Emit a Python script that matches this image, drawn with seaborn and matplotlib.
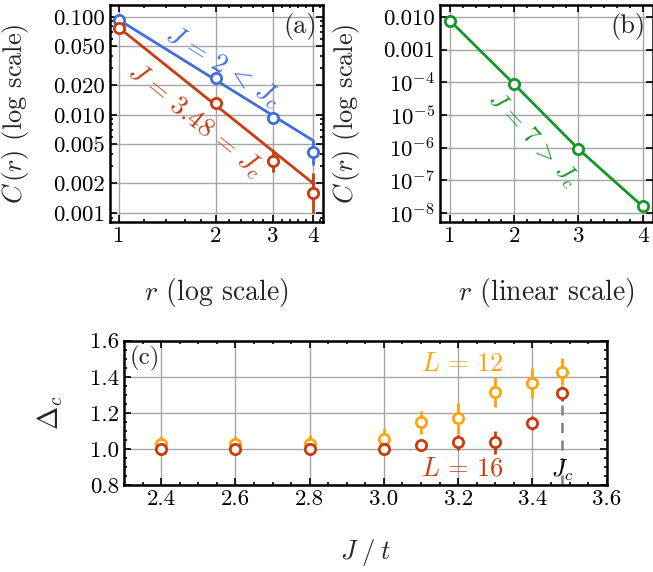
import numpy as np
import pandas as pd
import matplotlib
matplotlib.use("Agg")
import matplotlib.pyplot as plt
import matplotlib.ticker as mticker
import seaborn as sns

sns.set_style("ticks")
plt.rcParams["font.family"] = ["cmr10", "DejaVu Serif"]
plt.rcParams["mathtext.fontset"] = "cm"
plt.rcParams["axes.unicode_minus"] = False
plt.rcParams["axes.formatter.use_mathtext"] = True

# ---------------- data ----------------
r = [1, 2, 3, 4]
c_blue = [0.092, 0.0238, 0.0094, 0.0042]
c_blue_bar_lo = [np.nan, np.nan, np.nan, 0.0031]
c_blue_bar_hi = [np.nan, np.nan, np.nan, 0.0055]
c_red = [0.0772, 0.0132, 0.0034, 0.0016]
c_red_bar_lo = [np.nan, np.nan, 0.0026, 0.00101]
c_red_bar_hi = [np.nan, np.nan, 0.0044, 0.00254]
r_fit = [1, 4]
blue_fit = [0.093, 0.0055]
red_fit = [0.0775, 0.00202]

c_green = [0.0076, 8.7e-5, 9.1e-7, 1.6e-8]

J = [2.4, 2.6, 2.8, 3.0, 3.1, 3.2, 3.3, 3.4, 3.48]
L12 = [1.025, 1.025, 1.028, 1.056, 1.147, 1.169, 1.313, 1.363, 1.428]
L12_err = [0.045, 0.045, 0.05, 0.06, 0.065, 0.085, 0.083, 0.083, 0.075]
L16 = [1.0, 1.0, 1.0, 1.0, 1.019, 1.036, 1.037, 1.143, 1.308]
L16_err = [0.01, 0.01, 0.01, 0.01, 0.015, 0.04, 0.065, 0.04, 0.04]
Jc = 3.48

a_yticks = [0.001, 0.002, 0.005, 0.010, 0.020, 0.050, 0.100]
a_ylabels = ["0.001", "0.002", "0.005", "0.010", "0.020", "0.050", "0.100"]
b_yticks = [1e-8, 1e-7, 1e-6, 1e-5, 1e-4, 1e-3, 1e-2]
b_ylabels = [r"$10^{-8}$", r"$10^{-7}$", r"$10^{-6}$", r"$10^{-5}$", r"$10^{-4}$", "0.001", "0.010"]
c_xticks = [2.4, 2.6, 2.8, 3.0, 3.2, 3.4, 3.6]
c_yticks = [0.8, 1.0, 1.2, 1.4, 1.6]

BLUE = "#3f6fd6"
RED = "#c93b10"
GREEN = "#14962a"
ORANGE = "#ffa20f"
RED2 = "#c83c0c"
GRID = "#a6a6a6"

fig = plt.figure(figsize=(6.53, 5.72), dpi=100)
W, H = 653, 572


def add_ax(l, r_, t, b):
    return fig.add_axes([l / W, 1 - b / H, (r_ - l) / W, (b - t) / H])


def style(ax):
    for s in ax.spines.values():
        s.set_linewidth(1.8)
        s.set_color("black")
    ax.tick_params(which="both", direction="in", top=True, right=True,
                   colors="black", labelsize=16.5, width=1.2)
    ax.tick_params(which="major", length=5)
    ax.tick_params(which="minor", length=2.5)
    ax.grid(True, which="major", color=GRID, lw=1.0)
    ax.set_axisbelow(True)


mk = dict(marker="o", s=55, facecolor="white", linewidth=2, zorder=5, legend=False)

# ---------------- panel (a) ----------------
axa = add_ax(110, 323, 5, 222)
axa.set_xscale("log")
axa.set_yscale("log")
sns.lineplot(x=r_fit, y=blue_fit, ax=axa, color=BLUE, lw=2.0, zorder=3)
sns.lineplot(x=r_fit, y=red_fit, ax=axa, color=RED, lw=2.0, zorder=3)
axa.vlines(r, c_blue_bar_lo, c_blue_bar_hi, color=BLUE, lw=2.0, zorder=4)
axa.vlines(r, c_red_bar_lo, c_red_bar_hi, color=RED, lw=2.0, zorder=4)
sns.scatterplot(x=r, y=c_blue, ax=axa, edgecolor=BLUE, **mk)
sns.scatterplot(x=r, y=c_red, ax=axa, edgecolor=RED, **mk)
axa.set_xlim(0.938, 4.3)
axa.set_ylim(0.00081, 0.132)
axa.xaxis.set_major_locator(mticker.FixedLocator(r))
axa.xaxis.set_major_formatter(mticker.FixedFormatter([str(v) for v in r]))
axa.xaxis.set_minor_locator(mticker.FixedLocator(
    [1.2, 1.4, 1.6, 1.8, 2.2, 2.4, 2.6, 2.8, 3.2, 3.4, 3.6, 3.8, 4.2]))
axa.xaxis.set_minor_formatter(mticker.NullFormatter())
axa.yaxis.set_major_locator(mticker.FixedLocator(a_yticks))
axa.yaxis.set_major_formatter(mticker.FixedFormatter(a_ylabels))
axa.yaxis.set_minor_locator(mticker.LogLocator(base=10, subs=np.arange(2, 10)))
axa.yaxis.set_minor_formatter(mticker.NullFormatter())
style(axa)
axa.set_xlabel(r"$r$ (log scale)", fontsize=20)
axa.set_ylabel(r"$C\,(r)$ (log scale)", fontsize=19)
axa.xaxis.set_label_coords(0.5, -0.25)
axa.yaxis.set_label_coords(-0.37, 0.5)
axa.text(0.892, 0.899, "(a)", transform=axa.transAxes, fontsize=19,
         ha="center", va="center")
axa.text(2.10, 0.0307, r"$J\,=\,2\,<\,J_c$", color=BLUE, fontsize=19.5,
         rotation=-32, ha="center", va="center", rotation_mode="anchor")
axa.text(1.72, 0.00883, r"$J\,=\,3.48\,=\,J_c$", color=RED, fontsize=19.5,
         rotation=-39, ha="center", va="center", rotation_mode="anchor")

# ---------------- panel (b) ----------------
axb = add_ax(440, 653, 5, 222)
axb.set_yscale("log")
sns.lineplot(x=r, y=c_green, ax=axb, color=GREEN, lw=2.0, zorder=3)
sns.scatterplot(x=r, y=c_green, ax=axb, edgecolor=GREEN, **mk)
axb.set_xlim(0.845, 4.16)
axb.set_ylim(10 ** -8.27, 10 ** -1.64)
axb.xaxis.set_major_locator(mticker.FixedLocator(r))
axb.xaxis.set_major_formatter(mticker.FixedFormatter([str(v) for v in r]))
axb.xaxis.set_minor_locator(mticker.MultipleLocator(0.2))
axb.yaxis.set_major_locator(mticker.FixedLocator(b_yticks))
axb.yaxis.set_major_formatter(mticker.FixedFormatter(b_ylabels))
axb.yaxis.set_minor_locator(mticker.LogLocator(base=10, subs=[2, 5]))
axb.yaxis.set_minor_formatter(mticker.NullFormatter())
style(axb)
axb.set_xlabel(r"$r$ (linear scale)", fontsize=20)
axb.set_ylabel(r"$C\,(r)$ (log scale)", fontsize=19)
axb.xaxis.set_label_coords(0.5, -0.25)
axb.yaxis.set_label_coords(-0.366, 0.5)
axb.text(0.883, 0.899, "(b)", transform=axb.transAxes, fontsize=19,
         ha="center", va="center")
axb.text(2.29, 10 ** -5.76, r"$J\,=\,7\,>\,J_c$", color=GREEN, fontsize=18,
         rotation=-47, ha="center", va="center", rotation_mode="anchor")

# ---------------- panel (c) ----------------
axc = add_ax(124, 606.7, 340.7, 485)
axc.vlines([Jc], 0.8, 1.5, colors="#7f7f7f", linestyles=(0, (4, 3)), lw=1.8, zorder=2)
axc.errorbar(J, L12, yerr=L12_err, fmt="none", ecolor=ORANGE, elinewidth=2.0, zorder=3)
axc.errorbar(J, L16, yerr=L16_err, fmt="none", ecolor=RED2, elinewidth=2.0, zorder=3)
sns.scatterplot(x=J, y=L12, ax=axc, edgecolor=ORANGE, **mk)
sns.scatterplot(x=J, y=L16, ax=axc, edgecolor=RED2, **mk)
axc.set_xlim(2.3, 3.6)
axc.set_ylim(0.8, 1.6)
axc.xaxis.set_major_locator(mticker.FixedLocator(c_xticks))
axc.xaxis.set_major_formatter(mticker.FixedFormatter([f"{v:.1f}" for v in c_xticks]))
axc.xaxis.set_minor_locator(mticker.MultipleLocator(0.05))
axc.yaxis.set_major_locator(mticker.FixedLocator(c_yticks))
axc.yaxis.set_major_formatter(mticker.FixedFormatter([f"{v:.1f}" for v in c_yticks]))
axc.yaxis.set_minor_locator(mticker.MultipleLocator(0.05))
style(axc)
axc.set_xlabel(r"$J\;/\;t$", fontsize=19)
axc.set_ylabel(r"$\Delta_c$", fontsize=20)
axc.xaxis.set_label_coords(0.5, -0.36)
axc.yaxis.set_label_coords(-0.122, 0.5)
axc.text(2.357, 1.50, "(c)", fontsize=18, ha="center", va="center")
axc.text(3.21, 1.47, r"$L\,=\,12$", color=ORANGE, fontsize=19, ha="center", va="center")
axc.text(3.21, 0.892, r"$L\,=\,16$", color=RED2, fontsize=19, ha="center", va="center")
axc.text(Jc, 0.882, r"$J_c$", color="black", fontsize=17, ha="center", va="center")

fig.savefig("out.png", dpi=100)
